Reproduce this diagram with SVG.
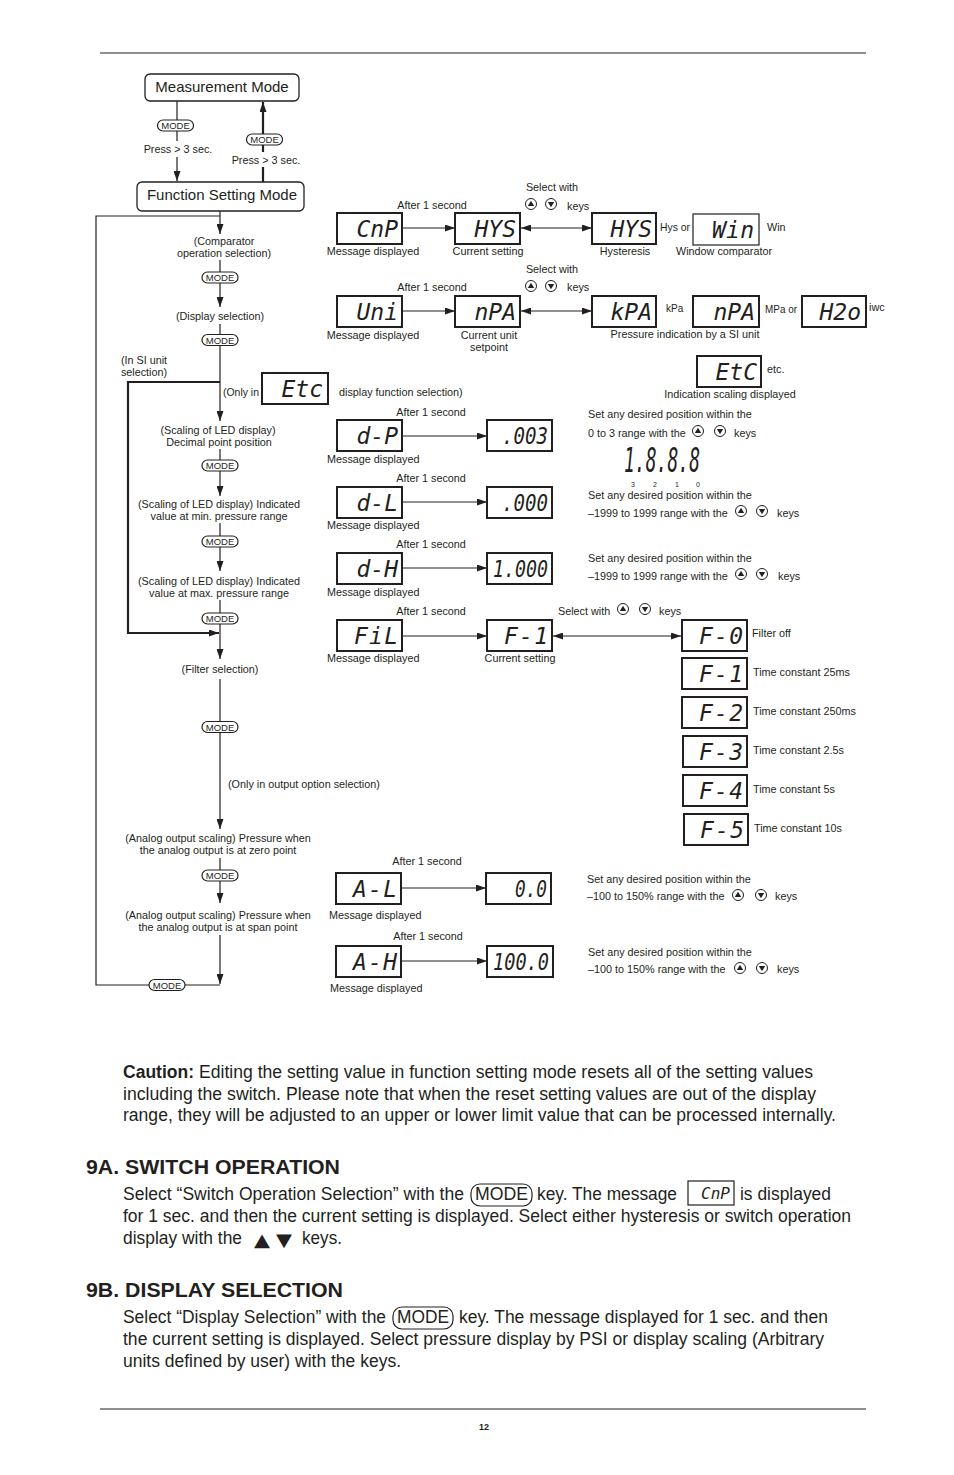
<svg xmlns="http://www.w3.org/2000/svg" width="954" height="1475" viewBox="0 0 954 1475">
<style>
.t{font-family:"Liberation Sans",Arial,sans-serif;font-size:10.8px;fill:#231f20}
.c{text-anchor:middle}
.s{font-size:10px}
.pt{font-family:"Liberation Sans",Arial,sans-serif;font-size:9.5px;fill:#231f20;text-anchor:middle}
.led{font-family:"DejaVu Sans Mono",monospace;font-style:italic;font-size:23px;fill:#231f20;text-anchor:end}
.box{fill:#fff;stroke:#231f20;stroke-width:2}
.thin{stroke-width:1.2}
.mode{fill:#fff;stroke:#231f20;stroke-width:1.2}
.ln{fill:none;stroke:#231f20;stroke-width:1.2}
.thk{stroke-width:2.2}
.body{font-family:"Liberation Sans",Arial,sans-serif;font-size:17.5px;fill:#231f20}
.hd{font-family:"Liberation Sans",Arial,sans-serif;font-size:21px;font-weight:bold;fill:#231f20}
.rule{stroke:#231f20;stroke-width:1}
</style>
<defs>
<marker id="a" viewBox="0 0 10 10" refX="10" refY="5" markerWidth="10" markerHeight="7" preserveAspectRatio="none" orient="auto-start-reverse" markerUnits="userSpaceOnUse"><path d="M0,0 L10,5 L0,10 z" fill="#231f20"/></marker>
<g id="ku"><circle r="5.5" fill="#fff" stroke="#231f20" stroke-width="1"/><path d="M-3.2,2 L3.2,2 L0,-3.2 z" fill="#231f20"/></g>
<g id="kd"><circle r="5.5" fill="#fff" stroke="#231f20" stroke-width="1"/><path d="M-3.2,-2 L3.2,-2 L0,3.2 z" fill="#231f20"/></g>
<rect id="pill" x="-18" y="-5.5" width="36" height="11" rx="5.5" class="mode"/>
</defs>
<rect width="954" height="1475" fill="#fff"/>
<line class="rule" x1="100" y1="53" x2="866" y2="53"/>
<line class="rule" x1="100" y1="1409" x2="866" y2="1409"/>

<!-- connectors -->
<g id="connectors" class="ln">
<path d="M177,101 V120"/>
<path d="M177,131 V141"/>
<path d="M177,157 V181" marker-end="url(#a)"/>
<path class="thk" d="M263,182 V167"/>
<path class="thk" d="M263,152 V145"/>
<path class="thk" d="M263,134 V102" marker-end="url(#a)"/>
<path d="M220,211 V234" marker-end="url(#a)"/>
<path d="M220,260 V272"/>
<path d="M220,283 V307" marker-end="url(#a)"/>
<path d="M220,324 V334"/>
<path d="M220,346 V421" marker-end="url(#a)"/>
<path class="thk" d="M220,382 H128 V633 H219" marker-end="url(#a)"/>
<path d="M220,449 V460"/>
<path d="M220,471 V496" marker-end="url(#a)"/>
<path d="M220,523 V536"/>
<path d="M220,547 V571" marker-end="url(#a)"/>
<path d="M220,600 V613"/>
<path d="M220,624 V659" marker-end="url(#a)"/>
<path d="M220,679 V721"/>
<path d="M220,732 V829" marker-end="url(#a)"/>
<path d="M220,858 V870"/>
<path d="M220,881 V903" marker-end="url(#a)"/>
<path d="M220,935 V984" marker-end="url(#a)"/>
<path d="M220,985 H185"/>
<path d="M149,985 H96 V216 H220"/>
<path d="M402,228 H455" marker-end="url(#a)"/>
<path d="M521,228 H592" marker-start="url(#a)" marker-end="url(#a)"/>
<path d="M402,311 H455" marker-end="url(#a)"/>
<path d="M521,311 H592" marker-start="url(#a)" marker-end="url(#a)"/>
<path d="M402,436 H487" marker-end="url(#a)"/>
<path d="M402,502 H487" marker-end="url(#a)"/>
<path d="M402,568 H487" marker-end="url(#a)"/>
<path d="M402,636 H487" marker-end="url(#a)"/>
<path d="M553,636 H681" marker-start="url(#a)" marker-end="url(#a)"/>
<path d="M401,888 H486" marker-end="url(#a)"/>
<path d="M401,961 H487" marker-end="url(#a)"/>
</g>

<!-- mode pills -->
<g id="mode-pills">
<use href="#pill" x="175.5" y="125.5"/><text class="pt" x="175.5" y="129">MODE</text>
<use href="#pill" x="264.5" y="139.5"/><text class="pt" x="264.5" y="143">MODE</text>
<use href="#pill" x="220" y="277.5"/><text class="pt" x="220" y="281">MODE</text>
<use href="#pill" x="220" y="340"/><text class="pt" x="220" y="343.5">MODE</text>
<use href="#pill" x="220" y="465.5"/><text class="pt" x="220" y="469">MODE</text>
<use href="#pill" x="220" y="541.5"/><text class="pt" x="220" y="545">MODE</text>
<use href="#pill" x="220" y="618.5"/><text class="pt" x="220" y="622">MODE</text>
<use href="#pill" x="220" y="727"/><text class="pt" x="220" y="730.5">MODE</text>
<use href="#pill" x="220" y="875.5"/><text class="pt" x="220" y="879">MODE</text>
<use href="#pill" x="167" y="985"/><text class="pt" x="167" y="988.5">MODE</text>
</g>

<!-- mode boxes -->
<g id="measurement-mode">
<rect x="145" y="74" width="154" height="27" rx="5" fill="#fff" stroke="#231f20" stroke-width="1.3"/>
<text class="t c" x="222" y="92" style="font-size:15px">Measurement Mode</text>
</g>
<g id="function-setting-mode">
<rect x="137" y="182" width="167" height="29" rx="5" fill="#fff" stroke="#231f20" stroke-width="1.3"/>
<text class="t c" x="222" y="200" style="font-size:15px">Function Setting Mode</text>
</g>
<text class="t c" x="178" y="153">Press &gt; 3 sec.</text>
<text class="t c" x="266" y="164">Press &gt; 3 sec.</text>

<!-- flow labels -->
<g id="flow-labels">
<text class="t c" x="224" y="245">(Comparator</text>
<text class="t c" x="224" y="257">operation selection)</text>
<text class="t c" x="220" y="320">(Display selection)</text>
<text class="t c" x="144" y="364">(In SI unit</text>
<text class="t c" x="144" y="376">selection)</text>
<text class="t" x="223" y="396" textLength="36" lengthAdjust="spacingAndGlyphs">(Only in</text>
<text class="t" x="339" y="396">display function selection)</text>
<text class="t c" x="218" y="434">(Scaling of LED display)</text>
<text class="t c" x="219" y="446">Decimal point position</text>
<text class="t c" x="219" y="508">(Scaling of LED display) Indicated</text>
<text class="t c" x="219" y="520">value at min. pressure range</text>
<text class="t c" x="219" y="585">(Scaling of LED display) Indicated</text>
<text class="t c" x="219" y="597">value at max. pressure range</text>
<text class="t c" x="220" y="673">(Filter selection)</text>
<text class="t" x="228" y="788">(Only in output option selection)</text>
<text class="t c" x="218" y="842">(Analog output scaling) Pressure when</text>
<text class="t c" x="218" y="854">the analog output is at zero point</text>
<text class="t c" x="218" y="919">(Analog output scaling) Pressure when</text>
<text class="t c" x="218" y="931">the analog output is at span point</text>
</g>

<g id="n-etc-small"><rect class="box" x="262" y="373" width="66" height="31"/><text class="led" x="323" y="397">Etc</text></g>

<!-- comparator row -->
<g id="n-cnp"><rect class="box" x="337" y="213" width="65" height="31"/><text class="led" x="398" y="237">CnP</text></g>
<g id="n-hys-cur"><rect class="box" x="455" y="213" width="65" height="31"/><text class="led" x="516" y="237">HYS</text></g>
<g id="n-hys"><rect class="box" x="592" y="213" width="64" height="31"/><text class="led" x="652" y="237">HYS</text></g>
<g id="n-win"><rect class="box thin" x="693" y="214" width="66" height="31"/><text class="led" x="754" y="238" textLength="42" lengthAdjust="spacing">Win</text></g>
<text class="t c" x="432" y="209">After 1 second</text>
<text class="t c" x="552" y="191">Select with</text>
<use href="#ku" x="531" y="204"/><use href="#kd" x="551" y="204"/>
<text class="t" x="567" y="210">keys</text>
<text class="t c" x="373" y="255">Message displayed</text>
<text class="t c" x="488" y="255">Current setting</text>
<text class="t" x="660" y="231" textLength="30" lengthAdjust="spacingAndGlyphs">Hys or</text>
<text class="t" x="767" y="231">Win</text>
<text class="t c" x="625" y="255">Hysteresis</text>
<text class="t c" x="724" y="255">Window comparator</text>

<!-- display row -->
<g id="n-uni"><rect class="box" x="337" y="296" width="65" height="31"/><text class="led" x="398" y="320">Uni</text></g>
<g id="n-mpa-cur"><rect class="box" x="455" y="296" width="65" height="31"/><text class="led" x="516" y="320">nPA</text></g>
<g id="n-kpa"><rect class="box" x="592" y="296" width="64" height="31"/><text class="led" x="652" y="320">kPA</text></g>
<g id="n-mpa"><rect class="box" x="693" y="296" width="66" height="31"/><text class="led" x="755" y="320">nPA</text></g>
<g id="n-h2o"><rect class="box" x="802" y="296" width="64" height="31"/><text class="led" x="861" y="320">H2o</text></g>
<text class="t c" x="432" y="291">After 1 second</text>
<text class="t c" x="552" y="273">Select with</text>
<use href="#ku" x="531" y="286"/><use href="#kd" x="551" y="286"/>
<text class="t" x="567" y="291">keys</text>
<text class="t c" x="373" y="339">Message displayed</text>
<text class="t c" x="489" y="339">Current unit</text>
<text class="t c" x="489" y="351">setpoint</text>
<text class="t s" x="666" y="312">kPa</text>
<text class="t" x="765" y="313" textLength="32" lengthAdjust="spacingAndGlyphs">MPa or</text>
<text class="t" x="869" y="311">iwc</text>
<text class="t c" x="685" y="338">Pressure indication by a SI unit</text>
<g id="n-etc"><rect class="box" x="697" y="356" width="64" height="31"/><text class="led" x="757" y="380">EtC</text></g>
<text class="t" x="767" y="373">etc.</text>
<text class="t c" x="730" y="398">Indication scaling displayed</text>

<!-- d-P row -->
<g id="n-dp"><rect class="box" x="337" y="420" width="65" height="31"/><text class="led" x="398" y="444">d-P</text></g>
<g id="n-003"><rect class="box" x="487" y="420" width="65" height="31"/><text class="led" x="548" y="444" textLength="46" lengthAdjust="spacingAndGlyphs">.003</text></g>
<text class="t c" x="431" y="416">After 1 second</text>
<text class="t" x="327" y="463">Message displayed</text>
<text class="t" x="588" y="418">Set any desired position within the</text>
<text class="t" x="588" y="437">0 to 3 range with the</text>
<use href="#ku" x="698" y="431"/><use href="#kd" x="720" y="431"/>
<text class="t" x="734" y="437">keys</text>
<text class="led" x="700" y="472" style="font-size:33px" textLength="76" lengthAdjust="spacingAndGlyphs">1.8.8.8</text>
<text class="t" x="633" y="487" style="font-size:7px" text-anchor="middle">3</text>
<text class="t" x="655" y="487" style="font-size:7px" text-anchor="middle">2</text>
<text class="t" x="677" y="487" style="font-size:7px" text-anchor="middle">1</text>
<text class="t" x="698" y="487" style="font-size:7px" text-anchor="middle">0</text>

<!-- d-L row -->
<g id="n-dl"><rect class="box" x="337" y="487" width="65" height="31"/><text class="led" x="398" y="511">d-L</text></g>
<g id="n-000"><rect class="box" x="487" y="487" width="65" height="31"/><text class="led" x="548" y="511" textLength="46" lengthAdjust="spacingAndGlyphs">.000</text></g>
<text class="t c" x="431" y="482">After 1 second</text>
<text class="t" x="327" y="529">Message displayed</text>
<text class="t" x="588" y="499">Set any desired position within the</text>
<text class="t" x="588" y="517">–1999 to 1999 range with the</text>
<use href="#ku" x="741" y="511"/><use href="#kd" x="762" y="511"/>
<text class="t" x="777" y="517">keys</text>

<!-- d-H row -->
<g id="n-dh"><rect class="box" x="337" y="553" width="65" height="31"/><text class="led" x="398" y="577">d-H</text></g>
<g id="n-1000"><rect class="box" x="487" y="553" width="65" height="31"/><text class="led" x="548" y="577" textLength="55" lengthAdjust="spacingAndGlyphs">1.000</text></g>
<text class="t c" x="431" y="548">After 1 second</text>
<text class="t" x="327" y="596">Message displayed</text>
<text class="t" x="588" y="562">Set any desired position within the</text>
<text class="t" x="588" y="580">–1999 to 1999 range with the</text>
<use href="#ku" x="741" y="574"/><use href="#kd" x="762" y="574"/>
<text class="t" x="778" y="580">keys</text>

<!-- filter row -->
<g id="n-fil"><rect class="box" x="337" y="620" width="65" height="31"/><text class="led" x="398" y="644" textLength="44" lengthAdjust="spacing">FiL</text></g>
<g id="n-f1-cur"><rect class="box" x="487" y="620" width="65" height="31"/><text class="led" x="548" y="644" textLength="44" lengthAdjust="spacing">F-1</text></g>
<text class="t c" x="431" y="615">After 1 second</text>
<text class="t" x="327" y="662">Message displayed</text>
<text class="t c" x="520" y="662">Current setting</text>
<text class="t" x="558" y="615">Select with</text>
<use href="#ku" x="623" y="609"/><use href="#kd" x="645" y="609"/>
<text class="t" x="659" y="615">keys</text>
<g id="n-f0"><rect class="box" x="682" y="620" width="65" height="31"/><text class="led" x="743" y="644" textLength="44" lengthAdjust="spacing">F-0</text></g>
<g id="n-f1"><rect class="box" x="682" y="658" width="65" height="31"/><text class="led" x="743" y="682" textLength="44" lengthAdjust="spacing">F-1</text></g>
<g id="n-f2"><rect class="box" x="682" y="697" width="65" height="31"/><text class="led" x="743" y="721" textLength="44" lengthAdjust="spacing">F-2</text></g>
<g id="n-f3"><rect class="box" x="683" y="736" width="64" height="31"/><text class="led" x="743" y="760" textLength="44" lengthAdjust="spacing">F-3</text></g>
<g id="n-f4"><rect class="box" x="683" y="775" width="64" height="31"/><text class="led" x="743" y="799" textLength="44" lengthAdjust="spacing">F-4</text></g>
<g id="n-f5"><rect class="box" x="684" y="814" width="64" height="31"/><text class="led" x="744" y="838" textLength="44" lengthAdjust="spacing">F-5</text></g>
<text class="t" x="752" y="637">Filter off</text>
<text class="t" x="753" y="676">Time constant 25ms</text>
<text class="t" x="753" y="715">Time constant 250ms</text>
<text class="t" x="753" y="754">Time constant 2.5s</text>
<text class="t" x="753" y="793">Time constant 5s</text>
<text class="t" x="754" y="832">Time constant 10s</text>

<!-- analog rows -->
<g id="n-al"><rect class="box" x="336" y="873" width="65" height="31"/><text class="led" x="397" y="897" textLength="44" lengthAdjust="spacing">A-L</text></g>
<g id="n-00"><rect class="box" x="486" y="873" width="65" height="31"/><text class="led" x="547" y="897" textLength="32" lengthAdjust="spacingAndGlyphs">0.0</text></g>
<text class="t c" x="427" y="865">After 1 second</text>
<text class="t" x="329" y="919">Message displayed</text>
<text class="t" x="587" y="883">Set any desired position within the</text>
<text class="t" x="587" y="900">–100 to 150% range with the</text>
<use href="#ku" x="738" y="895"/><use href="#kd" x="761" y="895"/>
<text class="t" x="775" y="900">keys</text>
<g id="n-ah"><rect class="box" x="336" y="946" width="65" height="31"/><text class="led" x="397" y="970" textLength="44" lengthAdjust="spacing">A-H</text></g>
<g id="n-1000b"><rect class="box" x="487" y="946" width="66" height="31"/><text class="led" x="549" y="970" textLength="56" lengthAdjust="spacingAndGlyphs">100.0</text></g>
<text class="t c" x="428" y="940">After 1 second</text>
<text class="t" x="330" y="992">Message displayed</text>
<text class="t" x="588" y="956">Set any desired position within the</text>
<text class="t" x="588" y="973">–100 to 150% range with the</text>
<use href="#ku" x="740" y="968"/><use href="#kd" x="762" y="968"/>
<text class="t" x="777" y="973">keys</text>

<!-- body text -->
<g id="body">
<text class="body" x="123" y="1078" font-weight="bold" textLength="71" lengthAdjust="spacingAndGlyphs">Caution:</text>
<text class="body" x="199" y="1078" textLength="614" lengthAdjust="spacingAndGlyphs">Editing the setting value in function setting mode resets all of the setting values</text>
<text class="body" x="123" y="1100" textLength="693" lengthAdjust="spacingAndGlyphs">including the switch.  Please note that when the reset setting values are out of the display</text>
<text class="body" x="123" y="1121" textLength="713" lengthAdjust="spacingAndGlyphs">range, they will be adjusted to an upper or lower limit value that can be processed internally.</text>
<text class="hd" x="86" y="1174" textLength="254" lengthAdjust="spacingAndGlyphs">9A. SWITCH OPERATION</text>
<text class="body" x="123" y="1200" textLength="341" lengthAdjust="spacingAndGlyphs">Select “Switch Operation Selection” with the</text>
<rect x="471" y="1184" width="61" height="22" rx="9" fill="none" stroke="#231f20" stroke-width="1.2"/>
<text class="body" x="475" y="1200" textLength="53" lengthAdjust="spacingAndGlyphs">MODE</text>
<text class="body" x="537" y="1200" textLength="140" lengthAdjust="spacingAndGlyphs">key. The message</text>
<rect x="688" y="1181" width="46" height="24" fill="none" stroke="#231f20" stroke-width="1.2"/>
<text class="led" x="730" y="1199" style="font-size:16px">CnP</text>
<text class="body" x="740" y="1200" textLength="91" lengthAdjust="spacingAndGlyphs">is displayed</text>
<text class="body" x="123" y="1222" textLength="728" lengthAdjust="spacingAndGlyphs">for 1 sec. and then the current setting is displayed. Select either hysteresis or switch operation</text>
<text class="body" x="123" y="1244" textLength="119" lengthAdjust="spacingAndGlyphs">display with the</text>
<text x="254" y="1246" style="font-family:'DejaVu Sans',sans-serif;font-size:18px;fill:#231f20" textLength="16" lengthAdjust="spacingAndGlyphs">▲</text>
<text x="276" y="1246" style="font-family:'DejaVu Sans',sans-serif;font-size:18px;fill:#231f20" textLength="16" lengthAdjust="spacingAndGlyphs">▼</text>
<text class="body" x="302" y="1244" textLength="40" lengthAdjust="spacingAndGlyphs">keys.</text>
<text class="hd" x="86" y="1297" textLength="257" lengthAdjust="spacingAndGlyphs">9B. DISPLAY SELECTION</text>
<text class="body" x="123" y="1323" textLength="263" lengthAdjust="spacingAndGlyphs">Select “Display Selection” with the</text>
<rect x="393" y="1307" width="60" height="22" rx="9" fill="none" stroke="#231f20" stroke-width="1.2"/>
<text class="body" x="397" y="1323" textLength="52" lengthAdjust="spacingAndGlyphs">MODE</text>
<text class="body" x="459" y="1323" textLength="369" lengthAdjust="spacingAndGlyphs">key. The message displayed for 1 sec. and then</text>
<text class="body" x="123" y="1345" textLength="701" lengthAdjust="spacingAndGlyphs">the current setting is displayed. Select pressure display by PSI or display scaling (Arbitrary</text>
<text class="body" x="123" y="1367" textLength="278" lengthAdjust="spacingAndGlyphs">units defined by user) with the keys.</text>
</g>
<text x="484" y="1430" style="font-family:'Liberation Sans',Arial,sans-serif;font-size:9px;font-weight:bold;fill:#231f20" text-anchor="middle">12</text>
</svg>
